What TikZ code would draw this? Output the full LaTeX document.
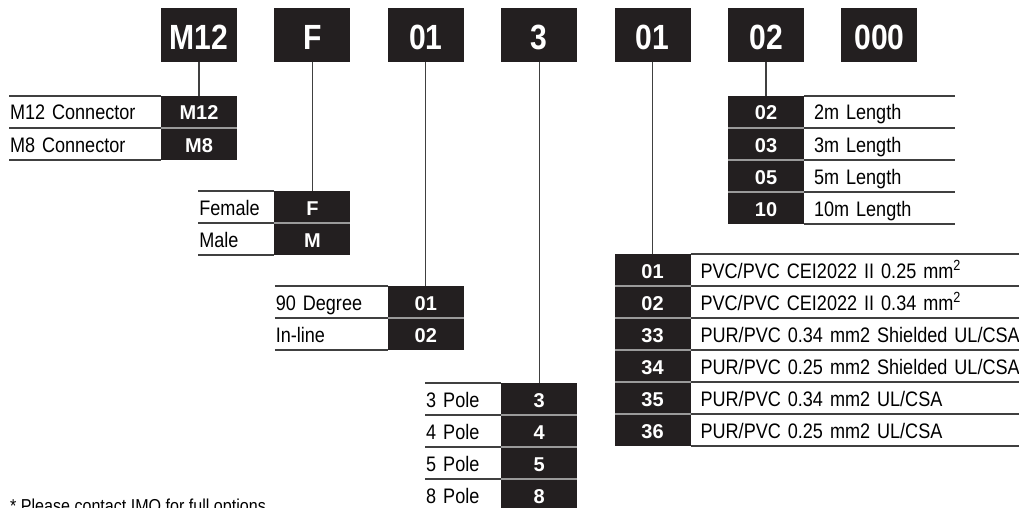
\documentclass[tikz,border=0pt]{standalone}
\usepackage{fontspec}
\setmainfont{Liberation Sans}
\newfontfamily\hdrface[FakeStretch=0.86]{Liberation Sans}
\newfontfamily\lblface[FakeStretch=0.86]{Liberation Sans}
\usetikzlibrary{positioning}
\definecolor{codeblack}{HTML}{231F20}
\definecolor{rulegray}{HTML}{404040}
\definecolor{sepgray}{HTML}{9A9A9A}

\begin{document}
\begin{tikzpicture}[
      x=1pt, y=-1pt,
      hdr/.style={fill=codeblack, text=white, minimum width=76pt, minimum height=54pt,
                  inner sep=0pt, outer sep=0pt, text height=30pt, text depth=0pt,
                  font=\hdrface\bfseries\fontsize{35}{35}\selectfont},
      code/.style={fill=codeblack, text=white, minimum width=76pt, minimum height=32pt,
                   inner sep=0pt, outer sep=0pt, text height=16pt, text depth=0pt,
                   font=\bfseries\fontsize{20}{20}\selectfont},
      lbl/.style={minimum height=32pt, inner xsep=1pt, inner ysep=0pt, outer sep=0pt,
                  text width=#1, align=left, text height=16pt, text depth=0pt,
                  font=\lblface\fontsize{21}{21}\selectfont},
      txt/.style={lbl=#1, inner xsep=10pt},
      rule/.style={draw=rulegray, line width=1.1pt},
      sep/.style={draw=sepgray, line width=1.1pt},
      conn/.style={draw=rulegray, line width=1.1pt}
  ]
      \useasboundingbox (0,0) rectangle (1019,508);

      % --- CODE HEADERS ---
      \node[hdr] (hM) at (199,35) {M12};
      \node[hdr, right=37.4pt of hM] (hF) {F};
      \node[hdr, right=37.4pt of hF] (hA) {01};
      \node[hdr, right=37.4pt of hA] (hP) {3};
      \node[hdr, right=37.4pt of hP] (hC) {01};
      \node[hdr, right=37.4pt of hC] (hL) {02};
      \node[hdr, right=37.4pt of hL] (hX) {000};

      % --- CONNECTOR ---
      \node[code, below=34pt of hM] (cM1) {M12};
      \node[code, below=0pt of cM1] (cM2) {M8};
      \node[lbl=150pt, left=0pt of cM1] (lM1) {M12 Connector};
      \node[lbl=150pt, left=0pt of cM2] (lM2) {M8 Connector};
      \draw[rule] (lM1.north west) -- (lM1.north east) (lM1.south west) -- (lM1.south east)
                  (lM2.south west) -- (lM2.south east);
      \draw[sep] (cM1.south west) -- (cM1.south east);

      % --- GENDER ---
      \node[code, below=129pt of hF] (cF1) {F};
      \node[code, below=0pt of cF1] (cF2) {M};
      \node[lbl=74pt, left=0pt of cF1] (lF1) {Female};
      \node[lbl=74pt, left=0pt of cF2] (lF2) {Male};
      \draw[rule] (lF1.north west) -- (lF1.north east) (lF1.south west) -- (lF1.south east)
                  (lF2.south west) -- (lF2.south east);
      \draw[sep] (cF1.south west) -- (cF1.south east);

      % --- ANGLE ---
      \node[code, below=224pt of hA] (cA1) {01};
      \node[code, below=0pt of cA1] (cA2) {02};
      \node[lbl=111pt, left=0pt of cA1] (lA1) {90 Degree};
      \node[lbl=111pt, left=0pt of cA2] (lA2) {In-line};
      \draw[rule] (lA1.north west) -- (lA1.north east) (lA1.south west) -- (lA1.south east)
                  (lA2.south west) -- (lA2.south east);
      \draw[sep] (cA1.south west) -- (cA1.south east);

      % --- POLES ---
      \node[code, below=321pt of hP] (cP1) {3};
      \node[code, below=0pt of cP1] (cP2) {4};
      \node[code, below=0pt of cP2] (cP3) {5};
      \node[code, below=0pt of cP3] (cP4) {8};
      \node[lbl=74pt, left=0pt of cP1] (lP1) {3 Pole};
      \node[lbl=74pt, left=0pt of cP2] (lP2) {4 Pole};
      \node[lbl=74pt, left=0pt of cP3] (lP3) {5 Pole};
      \node[lbl=74pt, left=0pt of cP4] (lP4) {8 Pole};
      \draw[rule] (lP1.north west) -- (lP1.north east) (lP1.south west) -- (lP1.south east)
                  (lP2.south west) -- (lP2.south east) (lP3.south west) -- (lP3.south east);
      \draw[sep] (cP1.south west) -- (cP1.south east) (cP2.south west) -- (cP2.south east)
                 (cP3.south west) -- (cP3.south east);

      % --- CABLE ---
      \node[code, below=192pt of hC] (cC1) {01};
      \node[code, below=0pt of cC1] (cC2) {02};
      \node[code, below=0pt of cC2] (cC3) {33};
      \node[code, below=0pt of cC3] (cC4) {34};
      \node[code, below=0pt of cC4] (cC5) {35};
      \node[code, below=0pt of cC5] (cC6) {36};
      \node[txt=320pt, right=0pt of cC1] (tC1) {PVC/PVC CEI2022 II 0.25 mm\textsuperscript{2}};
      \node[txt=320pt, right=0pt of cC2] (tC2) {PVC/PVC CEI2022 II 0.34 mm\textsuperscript{2}};
      \node[txt=320pt, right=0pt of cC3] (tC3) {PUR/PVC 0.34 mm2 Shielded UL/CSA};
      \node[txt=320pt, right=0pt of cC4] (tC4) {PUR/PVC 0.25 mm2 Shielded UL/CSA};
      \node[txt=320pt, right=0pt of cC5] (tC5) {PUR/PVC 0.34 mm2 UL/CSA};
      \node[txt=320pt, right=0pt of cC6] (tC6) {PUR/PVC 0.25 mm2 UL/CSA};
      \draw[rule] (tC1.north west) -- (tC1.north east) (tC1.south west) -- (tC1.south east)
                  (tC2.south west) -- (tC2.south east) (tC3.south west) -- (tC3.south east)
                  (tC4.south west) -- (tC4.south east) (tC5.south west) -- (tC5.south east)
                  (tC6.south west) -- (tC6.south east);
      \draw[sep] (cC1.south west) -- (cC1.south east) (cC2.south west) -- (cC2.south east)
                 (cC3.south west) -- (cC3.south east) (cC4.south west) -- (cC4.south east)
                 (cC5.south west) -- (cC5.south east);

      % --- LENGTH ---
      \node[code, below=34pt of hL] (cL1) {02};
      \node[code, below=0pt of cL1] (cL2) {03};
      \node[code, below=0pt of cL2] (cL3) {05};
      \node[code, below=0pt of cL3] (cL4) {10};
      \node[txt=131pt, right=0pt of cL1] (tL1) {2m Length};
      \node[txt=131pt, right=0pt of cL2] (tL2) {3m Length};
      \node[txt=131pt, right=0pt of cL3] (tL3) {5m Length};
      \node[txt=131pt, right=0pt of cL4] (tL4) {10m Length};
      \draw[rule] (tL1.north west) -- (tL1.north east) (tL1.south west) -- (tL1.south east)
                  (tL2.south west) -- (tL2.south east) (tL3.south west) -- (tL3.south east)
                  (tL4.south west) -- (tL4.south east);
      \draw[sep] (cL1.south west) -- (cL1.south east) (cL2.south west) -- (cL2.south east)
                 (cL3.south west) -- (cL3.south east);

      % --- LINKS ---
      \draw[conn] (hM) -- (cM1); \draw[conn] (hF) -- (cF1); \draw[conn] (hA) -- (cA1);
      \draw[conn] (hP) -- (cP1); \draw[conn] (hC) -- (cC1); \draw[conn] (hL) -- (cL1);

      \node[anchor=base west, inner sep=0pt, font=\lblface\fontsize{18.7}{18.7}\selectfont] (note)
          at (10,512) {* Please contact IMO for full options};
  \end{tikzpicture}
\end{document}
